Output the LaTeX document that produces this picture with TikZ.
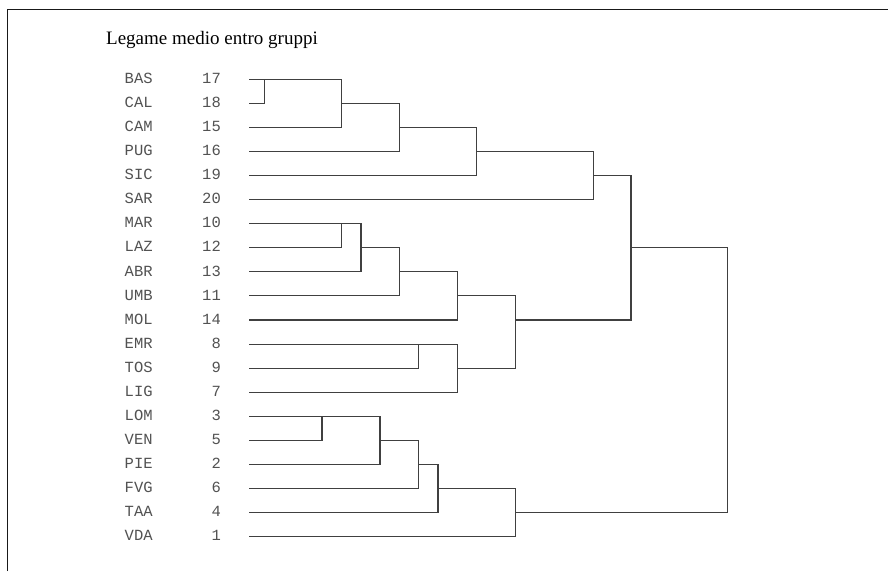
\documentclass[tikz,border=0pt]{standalone}
\usepackage{fontspec}
\setmainfont{Liberation Serif}
\newfontfamily\monof{Liberation Mono}
\newcommand\mkjoin[5]{%
  \coordinate (#1-t) at (#2,{79.3+24.07*#3});
  \coordinate (#1-b) at (#2,{79.3+24.07*#4});
  \coordinate (#1) at (#2,{79.3+24.07*#5});
  \draw[br] (#1-t) -- (#1-b);}
\begin{document}
\begin{tikzpicture}[x=1pt,y=-1pt,
  lbl/.style={font=\monof\fontsize{15.5}{16}\selectfont, text=black!68, inner sep=0pt},
  br/.style={draw=black!75, line width=1.1pt, line cap=rect}]
\useasboundingbox (0,0) rectangle (888,571);
\draw[line width=1.6pt, black!90] (7.5,571) -- (7.5,9.5) -- (888,9.5);
\node[anchor=base west, font=\fontsize{19}{21}\selectfont, inner sep=0pt] (title) at (106,44) {Legame medio entro gruppi};
\foreach \n/\k/\r in {BAS/17/0, CAL/18/1, CAM/15/2, PUG/16/3, SIC/19/4, SAR/20/5,
  MAR/10/6, LAZ/12/7, ABR/13/8, UMB/11/9, MOL/14/10, EMR/8/11, TOS/9/12, LIG/7/13,
  LOM/3/14, VEN/5/15, PIE/2/16, FVG/6/17, TAA/4/18, VDA/1/19} {
  \node[lbl, anchor=base west] (n\n) at (124.5,{79.3+24.07*\r+4.2}) {\n};
  \node[lbl, anchor=base east] (k\n) at (221,{79.3+24.07*\r+4.2}) {\k};
  \coordinate (\n) at (250,{79.3+24.07*\r});
}
\mkjoin{J1}{264.3}{0}{1}{0}
\mkjoin{J2}{341.7}{0}{2}{1}
\mkjoin{J3}{399.3}{1}{3}{2}
\mkjoin{J4}{476.7}{2}{4}{3}
\mkjoin{J5}{593.5}{3}{5}{4}
\mkjoin{K1}{341.7}{6}{7}{6}
\mkjoin{K2}{361}{6}{8}{7}
\mkjoin{K3}{399.3}{7}{9}{8}
\mkjoin{K4}{457.3}{8}{10}{9}
\mkjoin{L1}{418.7}{11}{12}{11}
\mkjoin{L2}{457.3}{11}{13}{12}
\mkjoin{K5}{515.7}{9}{12}{10}
\mkjoin{S}{631}{4}{10}{7}
\mkjoin{M1}{322}{14}{15}{14}
\mkjoin{M2}{380}{14}{16}{15}
\mkjoin{M3}{418.7}{15}{17}{16}
\mkjoin{M4}{438}{16}{18}{17}
\mkjoin{M5}{515.3}{17}{19}{18}
\mkjoin{R}{727.7}{7}{18}{12}
\foreach \c/\p in {BAS/J1, CAL/J1, J1/J2, CAM/J2, J2/J3, PUG/J3, J3/J4, SIC/J4,
  J4/J5, SAR/J5, J5/S, MAR/K1, LAZ/K1, K1/K2, ABR/K2, K2/K3, UMB/K3, K3/K4,
  MOL/K4, K4/K5, EMR/L1, TOS/L1, L1/L2, LIG/L2, L2/K5, K5/S, S/R,
  LOM/M1, VEN/M1, M1/M2, PIE/M2, M2/M3, FVG/M3, M3/M4, TAA/M4, M4/M5, VDA/M5, M5/R}
  \draw[br] (\c) -- (\c -| \p);
\end{tikzpicture}
\end{document}
